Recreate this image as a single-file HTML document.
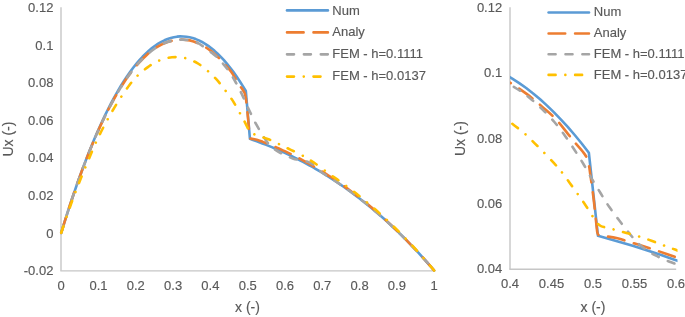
<!DOCTYPE html>
<html><head><meta charset="utf-8"><style>
html,body{margin:0;padding:0;background:#fff;}
body{width:685px;height:317px;overflow:hidden;}
svg{display:block;will-change:transform;}
text{font-family:"Liberation Sans",sans-serif;fill:#595959;stroke:#595959;stroke-width:0.15px;}
</style></head><body>
<svg width="685" height="317" viewBox="0 0 685 317">
<defs>
<clipPath id="cl"><rect x="55" y="0" width="385" height="275"/></clipPath>
<clipPath id="cr"><rect x="510" y="7" width="167.5" height="262"/></clipPath>
</defs>
<line x1="61.00" y1="7.30" x2="61.00" y2="270.85" stroke="#C6C6C6" stroke-width="1.4"/>
<line x1="60.30" y1="270.85" x2="434.20" y2="270.85" stroke="#C6C6C6" stroke-width="1.4"/>
<text x="53.40" y="11.95" font-size="13" text-anchor="end" >0.12</text>
<text x="53.40" y="49.55" font-size="13" text-anchor="end" >0.1</text>
<text x="53.40" y="87.15" font-size="13" text-anchor="end" >0.08</text>
<text x="53.40" y="124.75" font-size="13" text-anchor="end" >0.06</text>
<text x="53.40" y="162.35" font-size="13" text-anchor="end" >0.04</text>
<text x="53.40" y="199.95" font-size="13" text-anchor="end" >0.02</text>
<text x="53.40" y="237.55" font-size="13" text-anchor="end" >0</text>
<text x="53.40" y="275.15" font-size="13" text-anchor="end" >-0.02</text>
<text x="61.20" y="290.00" font-size="13" text-anchor="middle" >0</text>
<text x="98.50" y="290.00" font-size="13" text-anchor="middle" >0.1</text>
<text x="135.80" y="290.00" font-size="13" text-anchor="middle" >0.2</text>
<text x="173.10" y="290.00" font-size="13" text-anchor="middle" >0.3</text>
<text x="210.40" y="290.00" font-size="13" text-anchor="middle" >0.4</text>
<text x="247.70" y="290.00" font-size="13" text-anchor="middle" >0.5</text>
<text x="285.00" y="290.00" font-size="13" text-anchor="middle" >0.6</text>
<text x="322.30" y="290.00" font-size="13" text-anchor="middle" >0.7</text>
<text x="359.60" y="290.00" font-size="13" text-anchor="middle" >0.8</text>
<text x="396.90" y="290.00" font-size="13" text-anchor="middle" >0.9</text>
<text x="434.20" y="290.00" font-size="13" text-anchor="middle" >1</text>
<text x="247.50" y="311.60" font-size="14" text-anchor="middle" >x (-)</text>
<text x="0.00" y="0.00" font-size="14" text-anchor="middle" transform="translate(13.4,139) rotate(-90)">Ux (-)</text>
<g clip-path="url(#cl)"><path d="M61.20,232.90 L64.33,222.73 L67.46,212.84 L70.59,203.22 L73.72,193.87 L76.85,184.79 L79.98,175.99 L83.11,167.47 L86.24,159.21 L89.36,151.23 L92.49,143.51 L95.62,136.07 L98.75,128.90 L101.88,122.00 L105.01,115.37 L108.14,109.01 L111.27,102.92 L114.40,97.10 L117.53,91.55 L120.66,86.27 L123.79,81.25 L126.92,76.51 L130.05,72.03 L133.18,67.81 L136.31,63.87 L139.44,60.19 L142.56,56.77 L145.69,53.62 L148.82,50.74 L151.95,48.12 L155.08,45.77 L158.21,43.68 L161.34,41.85 L164.47,40.29 L167.60,38.99 L170.73,37.96 L173.86,37.18 L176.99,36.67 L180.12,36.42 L183.25,36.43 L186.38,36.71 L189.51,37.24 L192.64,38.03 L195.76,39.09 L198.89,40.40 L202.02,41.97 L205.15,43.80 L208.28,45.89 L211.41,48.24 L214.54,50.84 L217.67,53.71 L220.80,56.83 L223.93,60.20 L227.06,63.84 L230.19,67.73 L233.32,71.87 L236.45,76.27 L239.58,80.93 L242.71,85.84 L245.83,91.00 L249.94,138.89 L253.06,139.98 L256.18,141.09 L259.31,142.24 L262.43,143.42 L265.55,144.63 L268.68,145.87 L271.80,147.15 L274.92,148.46 L278.05,149.81 L281.17,151.19 L284.29,152.60 L287.42,154.05 L290.54,155.54 L293.66,157.06 L296.78,158.62 L299.91,160.22 L303.03,161.85 L306.15,163.52 L309.28,165.24 L312.40,166.99 L315.52,168.78 L318.65,170.61 L321.77,172.48 L324.89,174.39 L328.02,176.34 L331.14,178.33 L334.26,180.37 L337.38,182.45 L340.51,184.57 L343.63,186.74 L346.75,188.95 L349.88,191.20 L353.00,193.50 L356.12,195.84 L359.25,198.23 L362.37,200.67 L365.49,203.15 L368.62,205.68 L371.74,208.26 L374.86,210.89 L377.98,213.56 L381.11,216.29 L384.23,219.06 L387.35,221.88 L390.48,224.75 L393.60,227.68 L396.72,230.65 L399.85,233.68 L402.97,236.76 L406.09,239.89 L409.22,243.07 L412.34,246.31 L415.46,249.60 L418.58,252.95 L421.71,256.35 L424.83,259.80 L427.95,263.31 L431.08,266.88 L434.20,270.50" stroke="#5B9BD5" stroke-width="2.60" fill="none" stroke-linejoin="round" stroke-linecap="round"/>
<path d="M61.20,232.90 C61.82,230.89 63.69,224.78 64.93,220.81 C66.17,216.85 67.42,212.95 68.66,209.11 C69.90,205.28 71.15,201.51 72.39,197.80 C73.63,194.10 74.88,190.45 76.12,186.88 C77.36,183.30 78.61,179.77 79.85,176.34 C81.09,172.92 82.34,169.60 83.58,166.32 C84.82,163.05 86.07,159.84 87.31,156.69 C88.55,153.55 89.80,150.46 91.04,147.45 C92.28,144.43 93.53,141.48 94.77,138.59 C96.01,135.70 97.26,132.87 98.50,130.11 C99.74,127.35 100.99,124.65 102.23,122.02 C103.47,119.39 104.72,116.82 105.96,114.31 C107.20,111.81 108.45,109.37 109.69,106.99 C110.93,104.61 112.18,102.30 113.42,100.05 C114.66,97.80 115.91,95.61 117.15,93.49 C118.39,91.37 119.64,89.31 120.88,87.31 C122.12,85.32 123.37,83.38 124.61,81.51 C125.85,79.65 127.10,77.84 128.34,76.10 C129.58,74.36 130.83,72.68 132.07,71.06 C133.31,69.45 134.56,67.89 135.80,66.40 C137.04,64.91 138.29,63.49 139.53,62.12 C140.77,60.76 142.02,59.46 143.26,58.22 C144.50,56.99 145.75,55.81 146.99,54.70 C148.23,53.59 149.48,52.54 150.72,51.55 C151.96,50.57 153.21,49.64 154.45,48.78 C155.69,47.92 156.94,47.12 158.18,46.38 C159.42,45.65 160.67,44.97 161.91,44.36 C163.15,43.75 164.40,43.20 165.64,42.72 C166.88,42.23 168.13,41.81 169.37,41.44 C170.61,41.08 171.86,40.80 173.10,40.54 C174.34,40.28 175.59,40.04 176.83,39.89 C178.07,39.73 179.32,39.64 180.56,39.60 C181.80,39.57 183.05,39.60 184.29,39.69 C185.53,39.78 186.78,39.93 188.02,40.15 C189.26,40.36 190.51,40.64 191.75,40.98 C192.99,41.31 194.24,41.71 195.48,42.17 C196.72,42.64 197.97,43.16 199.21,43.74 C200.45,44.32 201.70,44.97 202.94,45.68 C204.18,46.38 205.43,47.15 206.67,47.98 C207.91,48.81 209.16,49.70 210.40,50.65 C211.64,51.60 212.89,52.61 214.13,53.68 C215.37,54.76 216.62,55.89 217.86,57.09 C219.10,58.28 220.35,59.54 221.59,60.85 C222.83,62.17 223.75,63.19 225.32,64.98 C226.89,66.77 229.12,69.05 230.99,71.60 C232.85,74.14 235.02,77.89 236.51,80.24 C238.00,82.59 238.88,84.07 239.94,85.70 C241.00,87.33 242.06,88.74 242.85,90.02 C243.65,91.30 244.21,92.03 244.72,93.40 C245.22,94.78 245.57,96.57 245.87,98.29 C246.17,100.02 246.15,100.42 246.51,103.74 C246.87,107.07 247.56,113.21 248.04,118.22 C248.51,123.23 249.06,130.66 249.34,133.82 C249.62,136.99 249.52,136.42 249.71,137.21 C249.91,137.99 249.90,138.21 250.50,138.52 C251.09,138.84 252.00,138.82 253.30,139.09 C254.59,139.36 256.68,139.70 258.26,140.16 C259.83,140.62 261.26,141.28 262.77,141.86 C264.27,142.43 265.77,143.02 267.28,143.62 C268.78,144.22 270.29,144.83 271.79,145.46 C273.29,146.08 274.80,146.71 276.30,147.36 C277.81,148.01 279.31,148.66 280.81,149.34 C282.32,150.01 283.82,150.68 285.32,151.39 C286.83,152.10 288.33,152.83 289.84,153.57 C291.34,154.31 292.84,155.06 294.35,155.83 C295.85,156.59 297.35,157.37 298.86,158.16 C300.36,158.96 301.87,159.76 303.37,160.58 C304.87,161.40 306.38,162.23 307.88,163.07 C309.38,163.91 310.89,164.77 312.39,165.64 C313.90,166.52 315.40,167.40 316.90,168.30 C318.41,169.20 319.91,170.11 321.42,171.04 C322.92,171.97 324.42,172.91 325.93,173.87 C327.43,174.82 328.93,175.79 330.44,176.78 C331.94,177.76 333.45,178.76 334.95,179.78 C336.45,180.79 337.96,181.82 339.46,182.87 C340.96,183.91 342.47,184.97 343.97,186.05 C345.48,187.12 346.98,188.21 348.48,189.32 C349.99,190.43 351.49,191.55 353.00,192.68 C354.50,193.82 356.00,194.98 357.51,196.14 C359.01,197.31 360.51,198.50 362.02,199.70 C363.52,200.90 365.03,202.12 366.53,203.35 C368.03,204.59 369.54,205.84 371.04,207.10 C372.54,208.37 374.05,209.66 375.55,210.96 C377.06,212.26 378.56,213.57 380.06,214.91 C381.57,216.24 383.07,217.60 384.57,218.97 C386.08,220.33 387.58,221.72 389.09,223.12 C390.59,224.53 392.09,225.95 393.60,227.39 C395.10,228.83 396.61,230.29 398.11,231.76 C399.61,233.24 401.12,234.73 402.62,236.24 C404.12,237.75 405.63,239.28 407.13,240.83 C408.64,242.38 410.14,243.95 411.64,245.53 C413.15,247.12 414.65,248.73 416.15,250.34 C417.66,251.95 419.16,253.56 420.67,255.21 C422.17,256.85 423.67,258.51 425.18,260.19 C426.68,261.87 428.18,263.57 429.69,265.29 C431.19,267.01 433.45,269.63 434.20,270.50" stroke="#ED7D31" stroke-width="2.60" fill="none" stroke-linejoin="round" stroke-linecap="round" stroke-dasharray="16.60 9.90" stroke-dashoffset="0.43"/>
<path d="M61.20,232.90 C61.88,230.71 63.91,224.07 65.26,219.76 C66.61,215.46 67.97,211.24 69.32,207.09 C70.67,202.94 72.02,198.87 73.38,194.87 C74.73,190.88 76.08,186.95 77.44,183.12 C78.79,179.28 80.14,175.53 81.50,171.88 C82.85,168.22 84.20,164.67 85.55,161.18 C86.91,157.69 88.26,154.27 89.61,150.94 C90.97,147.60 92.32,144.34 93.67,141.15 C95.03,137.97 96.38,134.86 97.73,131.82 C99.09,128.79 100.44,125.83 101.79,122.95 C103.14,120.07 104.50,117.26 105.85,114.53 C107.20,111.80 108.56,109.15 109.91,106.57 C111.26,103.99 112.62,101.49 113.97,99.06 C115.32,96.63 116.67,94.28 118.03,92.00 C119.38,89.72 120.73,87.52 122.09,85.39 C123.44,83.27 124.79,81.22 126.15,79.24 C127.50,77.26 128.85,75.36 130.20,73.53 C131.56,71.71 132.91,69.95 134.26,68.28 C135.62,66.60 136.97,65.00 138.32,63.47 C139.68,61.94 141.03,60.49 142.38,59.11 C143.74,57.73 145.09,56.42 146.44,55.19 C147.79,53.96 149.15,52.81 150.50,51.73 C151.85,50.64 153.21,49.64 154.56,48.70 C155.91,47.77 157.27,46.91 158.62,46.13 C159.97,45.34 161.32,44.63 162.68,43.99 C164.03,43.36 165.38,42.79 166.74,42.30 C168.09,41.81 169.44,41.41 170.80,41.05 C172.15,40.70 173.50,40.42 174.86,40.19 C176.21,39.96 177.56,39.78 178.91,39.68 C180.27,39.59 181.62,39.57 182.97,39.62 C184.33,39.67 185.68,39.79 187.03,39.99 C188.39,40.19 189.74,40.46 191.09,40.80 C192.44,41.15 193.80,41.56 195.15,42.05 C196.50,42.54 196.16,41.73 199.21,43.74 C202.26,45.75 210.07,51.44 213.46,54.11 C216.85,56.78 217.61,57.75 219.54,59.75 C221.47,61.76 223.26,63.89 225.06,66.14 C226.86,68.40 228.70,70.81 230.36,73.29 C232.02,75.76 233.52,78.33 235.02,81.00 C236.52,83.66 237.96,86.54 239.34,89.27 C240.73,91.99 242.01,94.50 243.34,97.35 C244.67,100.20 246.00,103.49 247.33,106.38 C248.65,109.26 250.01,112.02 251.28,114.65 C252.56,117.28 253.60,119.60 254.97,122.17 C256.35,124.74 258.00,127.49 259.52,130.06 C261.05,132.63 262.68,135.36 264.11,137.58 C265.54,139.81 266.80,141.81 268.10,143.41 C269.41,145.01 270.66,146.04 271.94,147.17 C273.23,148.30 273.97,149.02 275.79,150.18 C277.60,151.34 279.90,152.72 282.84,154.13 C285.77,155.54 288.80,157.17 293.39,158.64 C297.98,160.11 305.55,160.60 310.36,162.96 C315.18,165.32 319.33,170.55 322.30,172.80 C325.27,175.04 326.23,175.21 328.19,176.45 C330.15,177.69 332.12,178.96 334.08,180.25 C336.04,181.54 338.01,182.86 339.97,184.20 C341.93,185.54 343.89,186.91 345.86,188.31 C347.82,189.70 349.78,191.12 351.75,192.57 C353.71,194.02 355.67,195.49 357.64,197.00 C359.60,198.50 361.56,200.03 363.53,201.58 C365.49,203.14 367.45,204.73 369.42,206.34 C371.38,207.95 373.34,209.59 375.31,211.26 C377.27,212.93 379.23,214.63 381.19,216.36 C383.16,218.09 385.12,219.85 387.08,221.63 C389.05,223.42 391.01,225.24 392.97,227.09 C394.94,228.93 396.90,230.81 398.86,232.72 C400.83,234.63 402.79,236.57 404.75,238.54 C406.72,240.51 408.68,242.51 410.64,244.54 C412.61,246.58 414.57,248.64 416.53,250.74 C418.49,252.84 420.46,254.97 422.42,257.13 C424.38,259.29 426.35,261.49 428.31,263.72 C430.27,265.95 433.22,269.37 434.20,270.50" stroke="#A5A5A5" stroke-width="2.60" fill="none" stroke-linejoin="round" stroke-linecap="round" stroke-dasharray="7.00 9.90" stroke-dashoffset="16.51"/>
<path d="M61.20,232.90 C62.78,228.26 67.51,213.88 70.67,205.08 C73.84,196.27 76.13,190.16 80.19,180.07 C84.24,169.98 91.44,152.72 94.99,144.54 C98.54,136.36 99.38,135.20 101.48,131.00 C103.59,126.81 105.50,123.17 107.60,119.35 C109.70,115.53 111.86,111.77 114.09,108.07 C116.32,104.37 118.42,101.02 120.99,97.16 C123.56,93.31 126.74,88.52 129.50,84.94 C132.25,81.37 134.45,78.71 137.52,75.73 C140.58,72.76 144.32,69.59 147.89,67.08 C151.45,64.58 154.87,62.32 158.89,60.69 C162.90,59.06 167.62,57.75 171.98,57.31 C176.34,56.87 180.81,57.09 185.04,58.06 C189.26,59.03 193.55,60.97 197.35,63.14 C201.14,65.30 205.23,68.96 207.79,71.03 C210.34,73.10 211.07,73.98 212.68,75.54 C214.28,77.11 215.92,78.74 217.41,80.43 C218.90,82.12 220.24,83.94 221.63,85.70 C223.01,87.45 224.29,89.05 225.73,90.96 C227.17,92.87 228.99,95.35 230.28,97.16 C231.57,98.98 231.74,98.95 233.49,101.86 C235.24,104.78 238.95,111.42 240.76,114.65 C242.57,117.88 243.25,119.13 244.34,121.23 C245.44,123.33 246.46,125.55 247.33,127.24 C248.20,128.94 248.91,130.38 249.56,131.38 C250.22,132.38 250.06,132.63 251.28,133.26 C252.51,133.89 255.01,134.48 256.91,135.14 C258.82,135.80 260.77,136.52 262.69,137.21 C264.62,137.90 266.59,138.52 268.48,139.28 C270.36,140.03 272.16,140.87 274.00,141.72 C275.83,142.57 277.72,143.51 279.48,144.35 C281.24,145.20 282.67,145.89 284.55,146.80 C286.44,147.70 287.72,148.30 290.78,149.80 C293.84,151.31 299.05,153.69 302.90,155.82 C306.76,157.95 309.43,159.51 313.91,162.59 C318.38,165.67 325.87,171.49 329.76,174.29 C333.65,177.09 334.73,177.66 337.22,179.41 C339.71,181.15 342.19,182.94 344.68,184.77 C347.17,186.60 349.65,188.47 352.14,190.38 C354.63,192.29 357.11,194.25 359.60,196.25 C362.09,198.25 364.57,200.30 367.06,202.39 C369.55,204.48 372.03,206.61 374.52,208.79 C377.01,210.97 379.49,213.20 381.98,215.48 C384.47,217.75 386.95,220.07 389.44,222.44 C391.93,224.81 394.41,227.23 396.90,229.69 C399.39,232.16 401.87,234.68 404.36,237.24 C406.85,239.81 409.33,242.42 411.82,245.09 C414.31,247.76 416.79,250.48 419.28,253.25 C421.77,256.02 424.25,258.84 426.74,261.72 C429.23,264.59 432.96,269.04 434.20,270.50" stroke="#FFC000" stroke-width="2.60" fill="none" stroke-linejoin="round" stroke-linecap="round" stroke-dasharray="7.00 9.75 0.01 9.74" stroke-dashoffset="26.32"/></g>
<line x1="287.00" y1="10.40" x2="327.90" y2="10.40" stroke="#5B9BD5" stroke-width="2.6" stroke-linecap="round" />
<text x="332.30" y="14.60" font-size="13" text-anchor="start" >Num</text>
<line x1="287.00" y1="32.40" x2="327.90" y2="32.40" stroke="#ED7D31" stroke-width="2.6" stroke-linecap="round" stroke-dasharray="16.60 9.90"/>
<text x="332.30" y="36.00" font-size="13" text-anchor="start" >Analy</text>
<line x1="287.00" y1="54.35" x2="327.90" y2="54.35" stroke="#A5A5A5" stroke-width="2.6" stroke-linecap="round" stroke-dasharray="7.00 9.90"/>
<text x="332.30" y="57.95" font-size="13" text-anchor="start" >FEM - h=0.1111</text>
<line x1="287.00" y1="76.60" x2="327.90" y2="76.60" stroke="#FFC000" stroke-width="2.6" stroke-linecap="round" stroke-dasharray="7.00 9.75 0.01 9.74"/>
<text x="332.30" y="80.05" font-size="13" text-anchor="start" >FEM - h=0.0137</text>
<line x1="510.00" y1="7.30" x2="510.00" y2="269.30" stroke="#C6C6C6" stroke-width="1.4"/>
<line x1="509.30" y1="269.30" x2="676.20" y2="269.30" stroke="#C6C6C6" stroke-width="1.4"/>
<text x="502.20" y="12.15" font-size="13" text-anchor="end" >0.12</text>
<text x="502.20" y="77.40" font-size="13" text-anchor="end" >0.1</text>
<text x="502.20" y="142.65" font-size="13" text-anchor="end" >0.08</text>
<text x="502.20" y="207.90" font-size="13" text-anchor="end" >0.06</text>
<text x="502.20" y="273.15" font-size="13" text-anchor="end" >0.04</text>
<text x="510.00" y="288.20" font-size="13" text-anchor="middle" >0.4</text>
<text x="551.50" y="288.20" font-size="13" text-anchor="middle" >0.45</text>
<text x="593.00" y="288.20" font-size="13" text-anchor="middle" >0.5</text>
<text x="634.50" y="288.20" font-size="13" text-anchor="middle" >0.55</text>
<text x="676.00" y="288.20" font-size="13" text-anchor="middle" >0.6</text>
<text x="593.00" y="311.60" font-size="14" text-anchor="middle" >x (-)</text>
<text x="0.00" y="0.00" font-size="14" text-anchor="middle" transform="translate(465.2,138.5) rotate(-90)">Ux (-)</text>
<g clip-path="url(#cr)"><path d="M178.00,399.01 L184.96,381.36 L191.93,364.18 L198.89,347.49 L205.85,331.27 L212.82,315.52 L219.78,300.25 L226.74,285.45 L233.71,271.12 L240.67,257.26 L247.64,243.88 L254.60,230.97 L261.56,218.52 L268.53,206.55 L275.49,195.05 L282.45,184.01 L289.42,173.44 L296.38,163.34 L303.34,153.71 L310.31,144.54 L317.27,135.84 L324.23,127.60 L331.20,119.82 L338.16,112.51 L345.13,105.66 L352.09,99.28 L359.05,93.35 L366.02,87.89 L372.98,82.89 L379.94,78.34 L386.91,74.26 L393.87,70.63 L400.83,67.46 L407.80,64.75 L414.76,62.50 L421.72,60.70 L428.69,59.36 L435.65,58.47 L442.62,58.04 L449.58,58.06 L456.54,58.53 L463.51,59.45 L470.47,60.83 L477.43,62.66 L484.40,64.94 L491.36,67.67 L498.32,70.84 L505.29,74.47 L512.25,78.54 L519.21,83.07 L526.18,88.03 L533.14,93.45 L540.11,99.31 L547.07,105.61 L554.03,112.36 L561.00,119.56 L567.96,127.19 L574.92,135.27 L581.89,143.79 L588.85,152.75 L597.98,235.86 L604.93,237.75 L611.88,239.68 L618.83,241.67 L625.78,243.72 L632.73,245.82 L639.68,247.98 L646.63,250.19 L653.58,252.47 L660.53,254.80 L667.47,257.20 L674.42,259.65 L681.37,262.17 L688.32,264.75 L695.27,267.39 L702.22,270.10 L709.17,272.87 L716.12,275.70 L723.07,278.61 L730.02,281.58 L736.97,284.61 L743.92,287.72 L750.87,290.90 L757.82,294.14 L764.77,297.46 L771.72,300.85 L778.67,304.31 L785.62,307.84 L792.57,311.45 L799.52,315.13 L806.46,318.89 L813.41,322.72 L820.36,326.64 L827.31,330.62 L834.26,334.69 L841.21,338.84 L848.16,343.07 L855.11,347.38 L862.06,351.77 L869.01,356.24 L875.96,360.80 L882.91,365.44 L889.86,370.17 L896.81,374.98 L903.76,379.88 L910.71,384.86 L917.66,389.94 L924.61,395.10 L931.56,400.35 L938.51,405.69 L945.45,411.13 L952.40,416.65 L959.35,422.27 L966.30,427.98 L973.25,433.79 L980.20,439.69 L987.15,445.68 L994.10,451.78 L1001.05,457.97 L1008.00,464.26" stroke="#5B9BD5" stroke-width="2.60" fill="none" stroke-linejoin="round" stroke-linecap="round"/>
<path d="M178.00,399.01 C179.38,395.51 183.53,384.91 186.30,378.02 C189.07,371.14 191.83,364.38 194.60,357.72 C197.37,351.06 200.13,344.52 202.90,338.09 C205.67,331.66 208.43,325.34 211.20,319.14 C213.97,312.93 216.73,306.80 219.50,300.85 C222.27,294.91 225.03,289.15 227.80,283.47 C230.57,277.78 233.33,272.21 236.10,266.75 C238.87,261.29 241.63,255.94 244.40,250.71 C247.17,245.47 249.93,240.34 252.70,235.33 C255.47,230.32 258.23,225.41 261.00,220.62 C263.77,215.83 266.53,211.15 269.30,206.58 C272.07,202.01 274.83,197.55 277.60,193.21 C280.37,188.86 283.13,184.62 285.90,180.50 C288.67,176.37 291.43,172.36 294.20,168.45 C296.97,164.55 299.73,160.75 302.50,157.07 C305.27,153.39 308.03,149.81 310.80,146.35 C313.57,142.89 316.33,139.53 319.10,136.29 C321.87,133.05 324.63,129.91 327.40,126.89 C330.17,123.87 332.93,120.95 335.70,118.15 C338.47,115.35 341.23,112.65 344.00,110.07 C346.77,107.48 349.53,105.01 352.30,102.64 C355.07,100.27 357.83,98.02 360.60,95.87 C363.37,93.72 366.13,91.68 368.90,89.76 C371.67,87.83 374.43,86.00 377.20,84.29 C379.97,82.58 382.73,80.98 385.50,79.48 C388.27,77.99 391.03,76.60 393.80,75.33 C396.57,74.05 399.33,72.88 402.10,71.82 C404.87,70.76 407.63,69.80 410.40,68.96 C413.17,68.12 415.93,67.38 418.70,66.75 C421.47,66.12 424.23,65.64 427.00,65.19 C429.77,64.74 432.53,64.32 435.30,64.05 C438.07,63.78 440.83,63.62 443.60,63.56 C446.37,63.50 449.13,63.55 451.90,63.71 C454.67,63.87 457.43,64.13 460.20,64.51 C462.97,64.88 465.73,65.36 468.50,65.94 C471.27,66.53 474.03,67.22 476.80,68.02 C479.57,68.82 482.33,69.73 485.10,70.74 C487.87,71.75 490.63,72.87 493.40,74.10 C496.17,75.32 498.93,76.65 501.70,78.09 C504.47,79.53 507.23,81.07 510.00,82.72 C512.77,84.37 515.53,86.13 518.30,87.99 C521.07,89.85 523.83,91.82 526.60,93.90 C529.37,95.97 532.13,98.15 534.90,100.43 C537.67,102.72 539.71,104.50 543.20,107.60 C546.69,110.71 551.67,114.66 555.82,119.08 C559.97,123.49 564.78,130.01 568.10,134.09 C571.42,138.16 573.38,140.72 575.74,143.55 C578.09,146.37 580.44,148.82 582.21,151.05 C583.98,153.28 585.24,154.53 586.36,156.92 C587.48,159.32 588.27,162.41 588.93,165.41 C589.60,168.40 589.54,169.10 590.34,174.87 C591.15,180.63 592.70,191.29 593.75,199.99 C594.80,208.69 596.03,221.57 596.65,227.07 C597.27,232.56 597.05,231.58 597.48,232.94 C597.91,234.30 597.90,234.68 599.22,235.22 C600.55,235.77 602.57,235.73 605.45,236.20 C608.33,236.67 612.98,237.26 616.49,238.06 C620.00,238.86 623.18,240.00 626.53,241.01 C629.87,242.01 633.22,243.03 636.57,244.07 C639.91,245.11 643.26,246.17 646.61,247.25 C649.95,248.33 653.30,249.43 656.64,250.56 C659.99,251.68 663.34,252.82 666.68,253.99 C670.03,255.15 673.38,256.32 676.72,257.55 C680.07,258.77 683.41,260.05 686.76,261.34 C690.11,262.62 693.45,263.93 696.80,265.25 C700.15,266.58 703.49,267.93 706.84,269.31 C710.18,270.68 713.53,272.07 716.88,273.49 C720.22,274.91 723.57,276.35 726.92,277.82 C730.26,279.29 733.61,280.77 736.95,282.29 C740.30,283.80 743.65,285.34 746.99,286.90 C750.34,288.46 753.69,290.04 757.03,291.65 C760.38,293.26 763.72,294.90 767.07,296.56 C770.42,298.22 773.76,299.90 777.11,301.61 C780.46,303.32 783.80,305.05 787.15,306.82 C790.49,308.58 793.84,310.36 797.19,312.18 C800.53,313.99 803.88,315.83 807.23,317.69 C810.57,319.56 813.92,321.45 817.26,323.37 C820.61,325.29 823.96,327.24 827.30,329.21 C830.65,331.19 834.00,333.19 837.34,335.22 C840.69,337.24 844.03,339.30 847.38,341.39 C850.73,343.47 854.07,345.58 857.42,347.72 C860.77,349.87 864.11,352.04 867.46,354.24 C870.80,356.43 874.15,358.66 877.50,360.92 C880.84,363.18 884.19,365.46 887.54,367.78 C890.88,370.10 894.23,372.44 897.57,374.82 C900.92,377.19 904.27,379.60 907.61,382.04 C910.96,384.47 914.31,386.94 917.65,389.44 C921.00,391.94 924.34,394.47 927.69,397.03 C931.04,399.59 934.38,402.18 937.73,404.80 C941.08,407.42 944.42,410.08 947.77,412.77 C951.11,415.45 954.46,418.17 957.81,420.92 C961.15,423.67 964.50,426.46 967.85,429.26 C971.19,432.06 974.54,434.86 977.88,437.71 C981.23,440.56 984.58,443.44 987.92,446.35 C991.27,449.27 994.62,452.22 997.96,455.20 C1001.31,458.19 1006.33,462.75 1008.00,464.26" stroke="#ED7D31" stroke-width="2.60" fill="none" stroke-linejoin="round" stroke-linecap="round" stroke-dasharray="16.60 9.90" stroke-dashoffset="0.98"/>
<path d="M178.00,399.01 C179.51,395.21 184.02,383.67 187.03,376.21 C190.04,368.74 193.05,361.41 196.06,354.21 C199.08,347.01 202.09,339.94 205.10,333.01 C208.11,326.07 211.12,319.26 214.13,312.61 C217.14,305.96 220.15,299.45 223.16,293.10 C226.17,286.76 229.18,280.59 232.19,274.53 C235.20,268.48 238.22,262.55 241.23,256.76 C244.24,250.97 247.25,245.31 250.26,239.78 C253.27,234.26 256.28,228.86 259.29,223.60 C262.30,218.33 265.31,213.20 268.32,208.20 C271.33,203.20 274.35,198.33 277.36,193.59 C280.37,188.85 283.38,184.25 286.39,179.77 C289.40,175.29 292.41,170.95 295.42,166.74 C298.43,162.52 301.44,158.44 304.45,154.49 C307.46,150.54 310.47,146.71 313.49,143.02 C316.50,139.33 319.51,135.77 322.52,132.34 C325.53,128.91 328.54,125.61 331.55,122.44 C334.56,119.27 337.57,116.23 340.58,113.32 C343.59,110.40 346.60,107.62 349.61,104.97 C352.63,102.32 355.64,99.80 358.65,97.40 C361.66,95.01 364.67,92.75 367.68,90.61 C370.69,88.48 373.70,86.47 376.71,84.60 C379.72,82.72 382.73,80.97 385.74,79.35 C388.75,77.73 391.77,76.24 394.78,74.88 C397.79,73.52 400.80,72.28 403.81,71.18 C406.82,70.07 409.83,69.09 412.84,68.24 C415.85,67.39 418.86,66.69 421.87,66.08 C424.88,65.47 427.90,64.97 430.91,64.57 C433.92,64.18 436.93,63.86 439.94,63.70 C442.95,63.53 445.96,63.49 448.97,63.58 C451.98,63.67 454.99,63.89 458.00,64.23 C461.01,64.58 464.02,65.05 467.04,65.64 C470.05,66.24 473.06,66.96 476.07,67.81 C479.08,68.66 478.31,67.25 485.10,70.74 C491.89,74.23 509.27,84.11 516.81,88.74 C524.35,93.37 526.03,95.04 530.33,98.52 C534.64,102.00 538.61,105.70 542.62,109.62 C546.63,113.53 550.71,117.72 554.40,122.01 C558.10,126.31 561.45,130.77 564.78,135.39 C568.11,140.01 571.32,145.01 574.41,149.75 C577.49,154.48 580.33,158.83 583.29,163.77 C586.25,168.72 589.22,174.43 592.17,179.43 C595.12,184.44 598.13,189.22 600.97,193.79 C603.80,198.36 606.13,202.38 609.18,206.84 C612.24,211.30 615.92,216.08 619.31,220.54 C622.70,225.00 626.34,229.73 629.52,233.59 C632.70,237.45 635.50,240.93 638.40,243.70 C641.31,246.48 644.10,248.27 646.95,250.23 C649.80,252.19 651.46,253.44 655.50,255.45 C659.54,257.46 664.66,259.85 671.19,262.30 C677.72,264.75 684.47,267.58 694.68,270.13 C704.88,272.69 721.72,273.54 732.44,277.63 C743.16,281.73 752.39,290.80 759.00,294.70 C765.61,298.60 767.74,298.88 772.11,301.04 C776.47,303.19 780.84,305.39 785.21,307.63 C789.58,309.87 793.95,312.16 798.32,314.49 C802.68,316.82 807.05,319.19 811.42,321.62 C815.79,324.04 820.16,326.50 824.53,329.02 C828.89,331.53 833.26,334.09 837.63,336.69 C842.00,339.30 846.37,341.95 850.74,344.66 C855.11,347.36 859.47,350.11 863.84,352.91 C868.21,355.71 872.58,358.56 876.95,361.45 C881.32,364.35 885.68,367.30 890.05,370.30 C894.42,373.30 898.79,376.35 903.16,379.45 C907.53,382.55 911.89,385.71 916.26,388.91 C920.63,392.12 925.00,395.38 929.37,398.69 C933.74,402.00 938.11,405.36 942.47,408.78 C946.84,412.20 951.21,415.68 955.58,419.21 C959.95,422.74 964.32,426.32 968.68,429.96 C973.05,433.60 977.42,437.30 981.79,441.05 C986.16,444.80 990.53,448.61 994.89,452.48 C999.26,456.35 1005.82,462.29 1008.00,464.26" stroke="#A5A5A5" stroke-width="2.60" fill="none" stroke-linejoin="round" stroke-linecap="round" stroke-dasharray="7.00 9.90" stroke-dashoffset="0.41"/>
<path d="M178.00,399.00 C181.51,390.95 192.04,365.99 199.08,350.72 C206.12,335.44 211.23,324.83 220.25,307.32 C229.27,289.81 245.30,259.85 253.20,245.66 C261.10,231.47 262.96,229.46 267.64,222.17 C272.32,214.89 276.58,208.58 281.25,201.94 C285.93,195.31 290.73,188.79 295.69,182.37 C300.66,175.95 305.34,170.14 311.05,163.45 C316.76,156.76 323.84,148.44 329.97,142.24 C336.10,136.04 341.00,131.42 347.82,126.26 C354.64,121.09 362.97,115.60 370.89,111.25 C378.82,106.90 386.44,102.98 395.38,100.16 C404.31,97.33 414.81,95.04 424.51,94.28 C434.21,93.52 444.15,93.90 453.56,95.59 C462.97,97.27 472.51,100.64 480.95,104.40 C489.39,108.15 498.50,114.51 504.19,118.10 C509.88,121.69 511.49,123.21 515.06,125.93 C518.63,128.65 522.28,131.47 525.60,134.41 C528.92,137.35 531.90,140.50 534.98,143.55 C538.07,146.59 540.90,149.36 544.11,152.68 C547.32,156.00 551.36,160.29 554.24,163.45 C557.12,166.60 557.49,166.55 561.38,171.60 C565.26,176.66 573.54,188.19 577.56,193.79 C581.59,199.39 583.10,201.56 585.53,205.21 C587.96,208.85 590.23,212.71 592.17,215.65 C594.11,218.58 595.68,221.08 597.15,222.82 C598.62,224.56 598.24,225.00 600.97,226.09 C603.69,227.18 609.27,228.21 613.50,229.35 C617.73,230.49 622.08,231.74 626.37,232.94 C630.65,234.13 635.04,235.22 639.23,236.53 C643.42,237.83 647.43,239.30 651.51,240.77 C655.60,242.24 659.80,243.87 663.72,245.34 C667.63,246.80 670.81,248.00 675.00,249.58 C679.20,251.15 682.06,252.19 688.87,254.80 C695.67,257.41 707.26,261.54 715.84,265.24 C724.42,268.94 730.37,271.64 740.32,276.98 C750.28,282.32 766.95,292.42 775.60,297.29 C784.25,302.15 786.67,303.14 792.20,306.17 C797.73,309.20 803.27,312.30 808.80,315.47 C814.33,318.64 819.87,321.89 825.40,325.21 C830.93,328.53 836.47,331.93 842.00,335.40 C847.53,338.87 853.07,342.42 858.60,346.05 C864.13,349.68 869.67,353.38 875.20,357.17 C880.73,360.95 886.27,364.82 891.80,368.76 C897.33,372.71 902.87,376.74 908.40,380.85 C913.93,384.96 919.47,389.16 925.00,393.44 C930.53,397.72 936.07,402.08 941.60,406.53 C947.13,410.99 952.67,415.53 958.20,420.16 C963.73,424.78 969.27,429.50 974.80,434.31 C980.33,439.12 985.87,444.01 991.40,449.01 C996.93,454.00 1005.23,461.71 1008.00,464.26" stroke="#FFC000" stroke-width="2.60" fill="none" stroke-linejoin="round" stroke-linecap="round" stroke-dasharray="7.00 9.75 0.01 9.74" stroke-dashoffset="0.35"/></g>
<line x1="548.60" y1="12.45" x2="589.00" y2="12.45" stroke="#5B9BD5" stroke-width="2.6" stroke-linecap="round" />
<text x="593.80" y="16.45" font-size="13" text-anchor="start" >Num</text>
<line x1="548.60" y1="33.50" x2="589.00" y2="33.50" stroke="#ED7D31" stroke-width="2.6" stroke-linecap="round" stroke-dasharray="16.60 9.90"/>
<text x="593.80" y="36.95" font-size="13" text-anchor="start" >Analy</text>
<line x1="548.60" y1="54.20" x2="589.00" y2="54.20" stroke="#A5A5A5" stroke-width="2.6" stroke-linecap="round" stroke-dasharray="7.00 9.90"/>
<text x="593.80" y="57.95" font-size="13" text-anchor="start" >FEM - h=0.1111</text>
<line x1="548.60" y1="74.90" x2="589.00" y2="74.90" stroke="#FFC000" stroke-width="2.6" stroke-linecap="round" stroke-dasharray="7.00 9.75 0.01 9.74"/>
<text x="593.80" y="79.10" font-size="13" text-anchor="start" >FEM - h=0.0137</text>
</svg>
</body></html>
